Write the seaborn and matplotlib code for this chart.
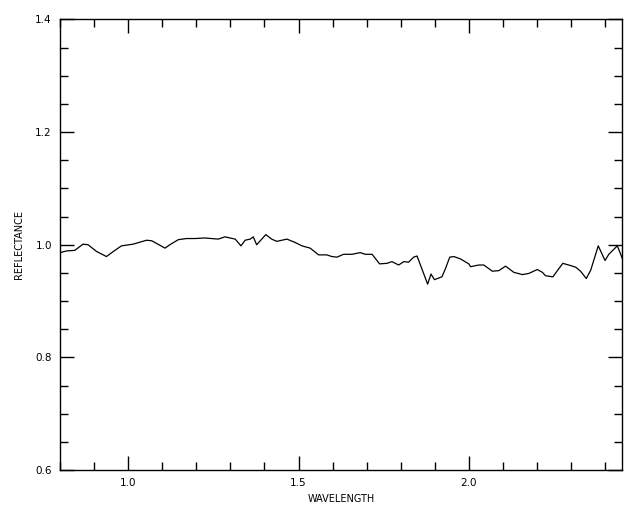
import numpy as np
import pandas as pd
import matplotlib
matplotlib.use("Agg")
import matplotlib.pyplot as plt
import seaborn as sns
from matplotlib.ticker import MultipleLocator

# --- spectrum values ---
wavelength = [0.800, 0.819, 0.843, 0.867, 0.882, 0.907, 0.936, 0.956, 0.980, 1.014,
              1.054, 1.069, 1.108, 1.122, 1.147, 1.171, 1.196, 1.225, 1.264, 1.284,
              1.314, 1.331, 1.343, 1.358, 1.367, 1.377, 1.392, 1.404, 1.421, 1.436,
              1.451, 1.466, 1.490, 1.510, 1.534, 1.559, 1.583, 1.598, 1.613, 1.632,
              1.657, 1.681, 1.696, 1.716, 1.738, 1.760, 1.774, 1.794, 1.809, 1.823,
              1.838, 1.848, 1.856, 1.866, 1.879, 1.889, 1.899, 1.921, 1.931, 1.944,
              1.956, 1.975, 2.000, 2.005, 2.029, 2.044, 2.069, 2.088, 2.108, 2.132,
              2.157, 2.176, 2.201, 2.216, 2.225, 2.247, 2.260, 2.276, 2.299, 2.314,
              2.328, 2.345, 2.358, 2.380, 2.400, 2.411, 2.426, 2.436, 2.446, 2.451]
reflectance = [0.986, 0.989, 0.990, 1.001, 1.000, 0.988, 0.979, 0.988, 0.998, 1.001,
               1.008, 1.007, 0.994, 1.000, 1.009, 1.011, 1.011, 1.012, 1.010, 1.014,
               1.010, 0.998, 1.008, 1.010, 1.014, 1.000, 1.010, 1.018, 1.010, 1.006,
               1.008, 1.010, 1.004, 0.998, 0.994, 0.982, 0.982, 0.979, 0.978, 0.983,
               0.983, 0.986, 0.983, 0.983, 0.966, 0.967, 0.970, 0.964, 0.970, 0.969,
               0.978, 0.980, 0.967, 0.951, 0.930, 0.948, 0.938, 0.943, 0.957, 0.978,
               0.979, 0.975, 0.966, 0.961, 0.964, 0.964, 0.953, 0.954, 0.962, 0.951,
               0.947, 0.949, 0.956, 0.951, 0.945, 0.943, 0.954, 0.967, 0.963, 0.960,
               0.953, 0.940, 0.955, 0.998, 0.972, 0.983, 0.992, 0.998, 0.983, 0.975]

x_ticks = [1.0, 1.5, 2.0]
y_ticks = [0.6, 0.8, 1.0, 1.2, 1.4]

df = pd.DataFrame({"WAVELENGTH": wavelength, "REFLECTANCE": reflectance})

sns.set_style("white")
plt.rcParams["font.family"] = ["DejaVu Sans"]

fig = plt.figure(figsize=(6.4, 5.12), dpi=100)
ax = fig.add_axes([0.094, 0.082, 0.878, 0.880])

sns.lineplot(data=df, x="WAVELENGTH", y="REFLECTANCE", color="black",
             linewidth=0.9, ax=ax, estimator=None, sort=False)

ax.set_xlim(0.8, 2.45)
ax.set_ylim(0.6, 1.4)
ax.set_xticks(x_ticks)
ax.set_yticks(y_ticks)
ax.set_xticklabels([f"{t:.1f}" for t in x_ticks], fontsize=7.5, color="black")
ax.set_yticklabels([f"{t:.1f}" for t in y_ticks], fontsize=7.5, color="black")
ax.xaxis.set_minor_locator(MultipleLocator(0.1))
ax.yaxis.set_minor_locator(MultipleLocator(0.05))
ax.tick_params(which="major", direction="in", length=10, width=1,
               bottom=True, left=True, top=True, right=True, color="black", pad=6)
ax.tick_params(which="minor", direction="in", length=6, width=1,
               bottom=True, left=True, top=True, right=True, color="black")
for side in ax.spines.values():
    side.set_color("black")
    side.set_linewidth(1.0)

ax.set_xlabel("WAVELENGTH", fontsize=7, color="black")
ax.set_ylabel("REFLECTANCE", fontsize=7, labelpad=8, color="black")

fig.savefig("out.png", dpi=100)
